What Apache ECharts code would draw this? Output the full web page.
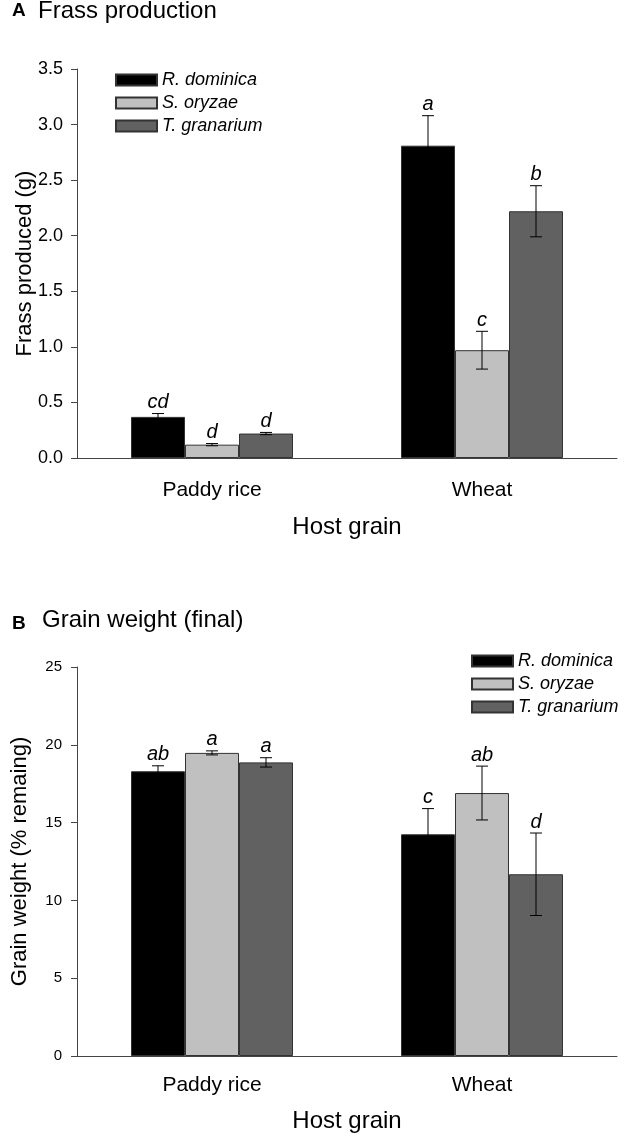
<!DOCTYPE html>
<html>
<head>
<meta charset="utf-8">
<script src="https://cdn.jsdelivr.net/npm/echarts@6/dist/echarts.min.js"></script>
<style>html,body{margin:0;padding:0;background:#fff}#c{width:628px;height:1137px}</style>
</head>
<body>
<div id="c"></div>
<script>
const categories = ['Paddy rice', 'Wheat'];
const speciesNames = ['R. dominica', 'S. oryzae', 'T. granarium'];

// Panel A: Frass produced (g)
const frassMean = [[0.37, 2.81], [0.12, 0.97], [0.22, 2.22]];
const frassErr  = [[0.03, 0.27], [0.01, 0.17], [0.01, 0.23]];
const frassLetters = [['cd', 'a'], ['d', 'c'], ['d', 'b']];
const frassTicks = [0, 0.5, 1.0, 1.5, 2.0, 2.5, 3.0, 3.5];

// Panel B: Grain weight (% remaining)
const grainMean = [[18.3, 14.25], [19.48, 16.9], [18.87, 11.68]];
const grainErr  = [[0.35, 1.65], [0.13, 1.73], [0.3, 2.65]];
const grainLetters = [['ab', 'c'], ['a', 'ab'], ['a', 'd']];
const grainTicks = [0, 5, 10, 15, 20, 25];

const colors = ['#000000', '#c0c0c0', '#616161'];
const FONT = 'Liberation Sans, Arial, sans-serif';

function errRender(sIdx, letters) {
  return function (params, api) {
    const ci = api.value(0), v = api.value(1), e = api.value(2);
    const band = api.size([1, 0])[0];
    const off = (sIdx - 1) * band * 0.2;
    const top = api.coord([ci, v + e]);
    const bot = api.coord([ci, v - e]);
    const x = top[0] + off;
    const hw = 6;
    const st = { stroke: '#000', lineWidth: 1 };
    return {
      type: 'group',
      children: [
        { type: 'line', shape: { x1: x, y1: top[1], x2: x, y2: bot[1] }, style: st },
        { type: 'line', shape: { x1: x - hw, y1: top[1], x2: x + hw, y2: top[1] }, style: st },
        { type: 'line', shape: { x1: x - hw, y1: bot[1], x2: x + hw, y2: bot[1] }, style: st },
        { type: 'text', style: { text: letters[ci], x: x, y: top[1] - 1, textAlign: 'center', textVerticalAlign: 'bottom', font: 'italic 20px ' + FONT, fill: '#000' } }
      ]
    };
  };
}

const series = [];
[[frassMean, frassErr, frassLetters, 0], [grainMean, grainErr, grainLetters, 1]].forEach(([means, errs, letters, g]) => {
  for (let s = 0; s < 3; s++) {
    series.push({
      name: speciesNames[s], type: 'bar', xAxisIndex: g, yAxisIndex: g,
      data: means[s], barGap: '0%', barCategoryGap: '40%',
      itemStyle: { color: colors[s], borderColor: '#333', borderWidth: 1 },
      emphasis: { disabled: true }, animation: false
    });
  }
  for (let s = 0; s < 3; s++) {
    series.push({
      type: 'custom', xAxisIndex: g, yAxisIndex: g, z: 5, animation: false,
      renderItem: errRender(s, letters[s]),
      data: categories.map((c, i) => [i, means[s][i], errs[s][i]])
    });
  }
});

const axisLine = { lineStyle: { color: '#444', width: 1 } };
function xAx(g, margin, gap) {
  return {
    type: 'category', gridIndex: g, data: categories,
    axisLine: axisLine, axisTick: { alignWithLabel: true, length: 5, lineStyle: { color: '#444' } },
    axisLabel: { color: '#000', fontSize: 21, fontFamily: FONT, margin: margin },
    name: 'Host grain', nameLocation: 'middle', nameGap: gap, nameMoveOverlap: false,
    nameTextStyle: { color: '#000', fontSize: 24, fontFamily: FONT }
  };
}
const legendStyle = { fontSize: 18, fontStyle: 'italic', fontFamily: FONT, color: '#000' };

const option = {
  animation: false,
  graphic: [
    { type: 'text', style: { text: 'A', x: 12, y: 11, textVerticalAlign: 'middle', font: 'bold 19px ' + FONT, fill: '#000' } },
    { type: 'text', style: { text: 'Frass production', x: 38, y: 11, textVerticalAlign: 'middle', font: '24px ' + FONT, fill: '#000' } },
    { type: 'text', style: { text: 'B', x: 12, y: 624, textVerticalAlign: 'middle', font: 'bold 19px ' + FONT, fill: '#000' } },
    { type: 'text', style: { text: 'Grain weight (final)', x: 42, y: 620, textVerticalAlign: 'middle', font: '24px ' + FONT, fill: '#000' } }
  ],
  legend: [
    { data: speciesNames, orient: 'vertical', left: 110, top: 66, itemWidth: 41, itemHeight: 11, itemGap: 5, selectedMode: false, icon: 'rect',
      textStyle: legendStyle },
    { data: speciesNames, orient: 'vertical', left: 466, top: 647, itemWidth: 41, itemHeight: 11, itemGap: 5, selectedMode: false, icon: 'rect',
      textStyle: legendStyle }
  ],
  grid: [
    { left: 77, top: 69, width: 540, height: 389, containLabel: false, outerBoundsMode: 'none' },
    { left: 77, top: 667, width: 540, height: 389, containLabel: false, outerBoundsMode: 'none' }
  ],
  xAxis: [xAx(0, 22, 57), xAx(1, 19, 53)],
  yAxis: [
    { type: 'value', gridIndex: 0, min: frassTicks[0], max: frassTicks[frassTicks.length - 1], interval: 0.5,
      axisLine: Object.assign({ show: true }, axisLine), axisTick: { show: true, length: 6, lineStyle: { color: '#444' } },
      splitLine: { show: false },
      axisLabel: { color: '#000', fontSize: 18, fontFamily: FONT, margin: 14, formatter: v => v.toFixed(1) },
      name: 'Frass produced (g)', nameLocation: 'middle', nameGap: 41, nameMoveOverlap: false,
      nameTextStyle: { color: '#000', fontSize: 22, fontFamily: FONT } },
    { type: 'value', gridIndex: 1, min: grainTicks[0], max: grainTicks[grainTicks.length - 1], interval: 5,
      axisLine: Object.assign({ show: true }, axisLine), axisTick: { show: true, length: 6, lineStyle: { color: '#444' } },
      splitLine: { show: false },
      axisLabel: { color: '#000', fontSize: 15, fontFamily: 'Liberation Sans Narrow, ' + FONT, margin: 15 },
      name: 'Grain weight (% remaing)', nameLocation: 'middle', nameGap: 46, nameMoveOverlap: false,
      nameTextStyle: { color: '#000', fontSize: 22, fontFamily: FONT } }
  ],
  series: series
};

const chart = echarts.init(document.getElementById('c'), null, { renderer: 'canvas' });
chart.setOption(option);
</script>
</body>
</html>
